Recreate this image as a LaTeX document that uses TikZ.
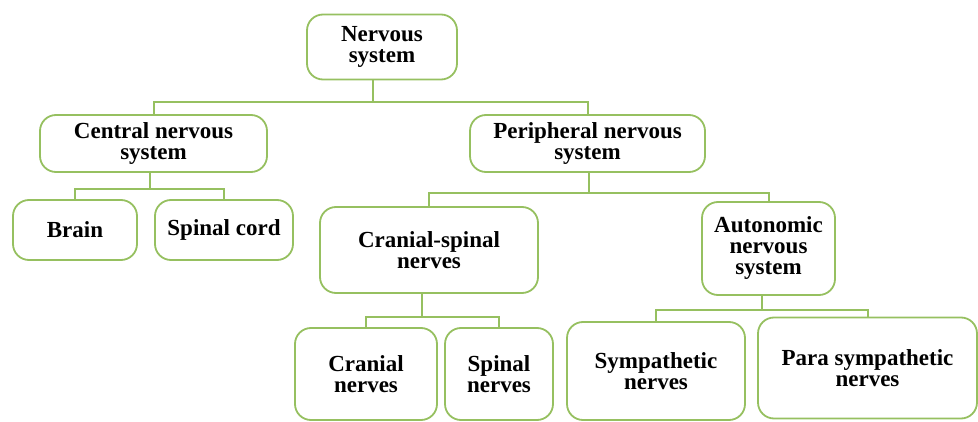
\documentclass[tikz,border=0pt]{standalone}
\usepackage{fontspec}
\setmainfont{Liberation Serif}
\definecolor{lvse}{RGB}{150,192,96}

\begin{document}
\begin{tikzpicture}[x=1pt,y=-1pt,line width=1.8pt,line cap=round]
	\tikzstyle{kuang}=[draw=lvse,rounded corners=16pt,fill=white,inner sep=0pt,align=center,font=\bfseries\fontsize{23}{21}\selectfont];
	\tikzstyle{xian}=[draw=lvse,line width=2pt];
	\useasboundingbox (0,0) rectangle (978,422);
	%% level 1
	\node[kuang,minimum width=150pt,minimum height=65pt] (ns)   at (382,47)    {Nervous\\system};
	%% level 2
	\node[kuang,minimum width=227pt,minimum height=57pt] (cns)  at (153.5,143.5) {Central nervous\\system};
	\node[kuang,minimum width=235pt,minimum height=57pt] (pns)  at (587.5,143.5) {Peripheral nervous\\system};
	%% level 3
	\node[kuang,minimum width=124pt,minimum height=60pt] (brain) at (75,230)    {Brain};
	\node[kuang,minimum width=138pt,minimum height=60pt] (sc)    at (224,230)   {Spinal cord};
	\node[kuang,minimum width=218pt,minimum height=86pt] (cs)    at (429,250)   {Cranial-spinal\\nerves};
	\node[kuang,minimum width=133pt,minimum height=93pt] (ans)   at (768.5,248.5) {Autonomic\\nervous\\system};
	%% level 4
	\node[kuang,minimum width=142pt,minimum height=92pt] (cn)   at (366,374)   {Cranial\\nerves};
	\node[kuang,minimum width=108pt,minimum height=92pt] (sn)   at (499,374)   {Spinal\\nerves};
	\node[kuang,minimum width=178pt,minimum height=98pt] (sym)  at (656,371)   {Sympathetic\\nerves};
	\node[kuang,minimum width=219pt,minimum height=101pt] (para) at (867.5,368) {Para sympathetic\\nerves};
	%% connectors
	\coordinate (b1) at (373,102);
	\coordinate (b2) at (150,189);
	\coordinate (b3) at (589,193);
	\coordinate (b4) at (422,317);
	\coordinate (b5) at (762,310);
	\draw[xian] (b1 |- ns.south) -- (b1);
	\draw[xian] (cns.north) |- (b1) -| (pns.north);
	\draw[xian] (b2 |- cns.south) -- (b2);
	\draw[xian] (brain.north) |- (b2) -| (sc.north);
	\draw[xian] (b3 |- pns.south) -- (b3);
	\draw[xian] (cs.north) |- (b3) -| (ans.north);
	\draw[xian] (b4 |- cs.south) -- (b4);
	\draw[xian] (cn.north) |- (b4) -| (sn.north);
	\draw[xian] (b5 |- ans.south) -- (b5);
	\draw[xian] (sym.north) |- (b5) -| (para.north);
\end{tikzpicture}
\end{document}
